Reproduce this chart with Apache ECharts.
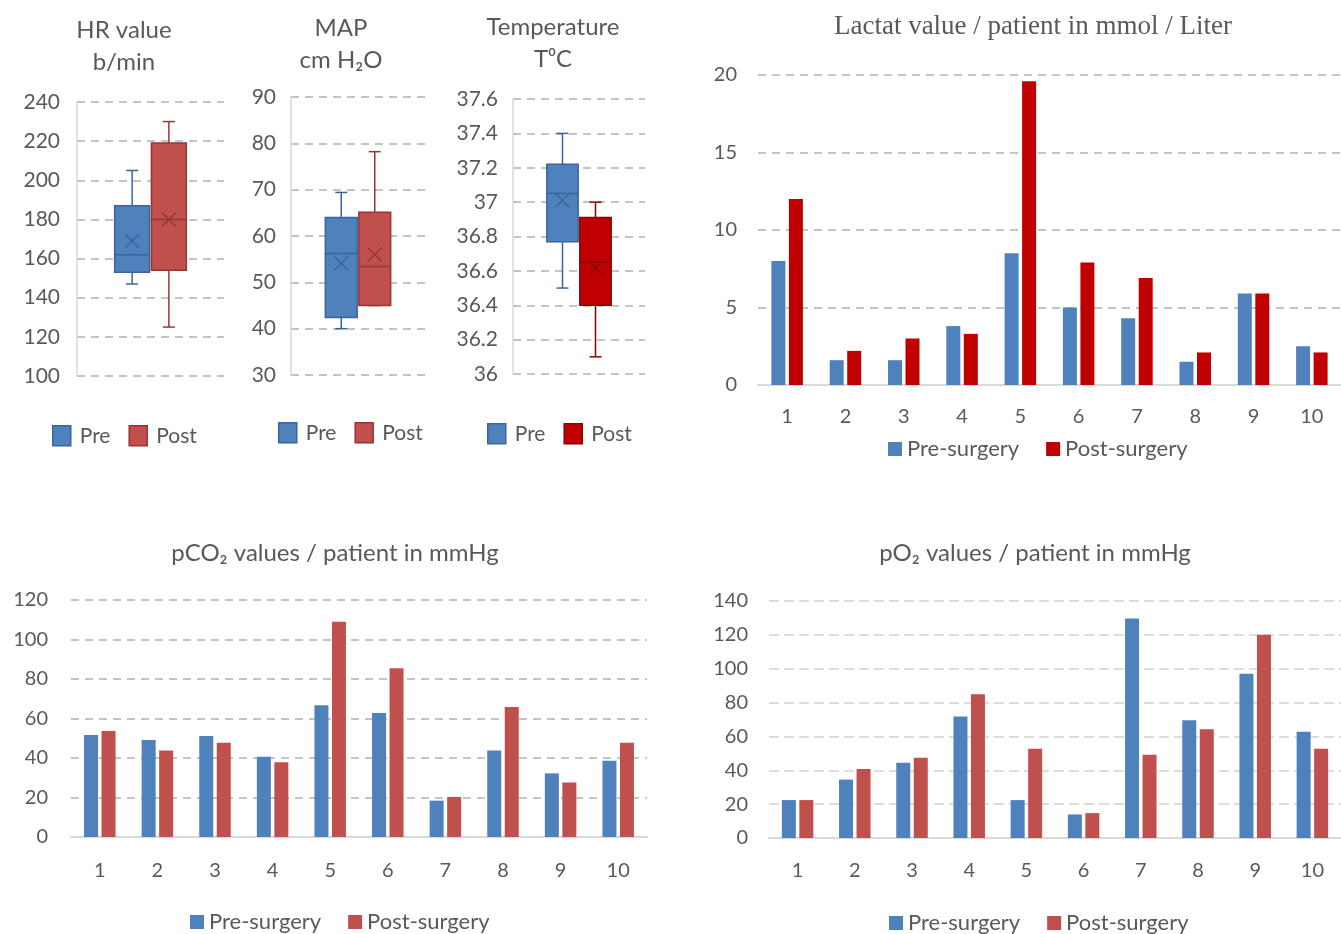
<!DOCTYPE html>
<html>
<head>
<meta charset="utf-8">
<script src="https://cdn.jsdelivr.net/npm/echarts@6/dist/echarts.min.js"></script>
<style>html,body{margin:0;padding:0;background:#fff}#c{width:1341px;height:934px}</style>
</head>
<body>
<div id="c"></div>
<script>
// ---- data ----
// box stats: [min, q1, median, q3, max, mean]
const boxCats = ['l', 'Pre', 'Post', 'r'];
const hrPre = [147, 153, 162, 187, 205, 169];
const hrPost = [125, 154, 180, 219, 230, 180];
const mapPre = [40, 42.4, 56.2, 64, 69.4, 54.1];
const mapPost = [45, 45, 53.4, 65.1, 78.2, 56];
const tempPre = [36.5, 36.77, 37.05, 37.22, 37.4, 37.01];
const tempPost = [36.1, 36.4, 36.65, 36.91, 37.0, 36.62];

const patients = ['1', '2', '3', '4', '5', '6', '7', '8', '9', '10'];
const lactatPre = [8.0, 1.6, 1.6, 3.8, 8.5, 5.0, 4.3, 1.5, 5.9, 2.5];
const lactatPost = [12.0, 2.2, 3.0, 3.3, 19.6, 7.9, 6.9, 2.1, 5.9, 2.1];
const pco2Pre = [51.6, 49.1, 51.1, 40.6, 66.7, 62.8, 18.4, 43.8, 32.2, 38.6];
const pco2Post = [53.7, 43.8, 47.7, 37.9, 109, 85.5, 20.3, 65.8, 27.6, 47.7];
const po2Pre = [22.4, 34.5, 44.4, 71.8, 22.4, 13.9, 129.7, 69.6, 97, 62.7];
const po2Post = [22.4, 40.7, 47.4, 84.9, 52.7, 14.7, 49.2, 64.2, 120, 52.7];

// ---- styles ----
const FONT = 'Lato, "Noto Sans", "DejaVu Sans", sans-serif';
const TXT = '#595959';
const BLUE = '#4F81BD', BLUE_D = '#3A6598';
const RED = '#C0504D', RED_D = '#943734';
const DRED = '#C00000', DRED_D = '#8E0000';

function boxRender(fill, stroke) {
  return function (params, api) {
    const c = api.value(0);
    const v = [1, 2, 3, 4, 5, 6].map(i => api.value(i));
    const band = api.size([1, 0])[0];
    const bw = band * 0.95;
    const y = val => api.coord([c, val])[1];
    const cx = api.coord([c, v[2]])[0];
    const yMin = y(v[0]), yQ1 = y(v[1]), yMed = y(v[2]), yQ3 = y(v[3]), yMax = y(v[4]), yMean = y(v[5]);
    const cap = 6, m = 7;
    const ls = { stroke: stroke, lineWidth: 1.5 };
    return {
      type: 'group',
      children: [
        { type: 'line', shape: { x1: cx, y1: yMax, x2: cx, y2: yQ3 }, style: ls },
        { type: 'line', shape: { x1: cx - cap, y1: yMax, x2: cx + cap, y2: yMax }, style: ls },
        { type: 'line', shape: { x1: cx, y1: yMin, x2: cx, y2: yQ1 }, style: ls },
        { type: 'line', shape: { x1: cx - cap, y1: yMin, x2: cx + cap, y2: yMin }, style: ls },
        { type: 'rect', shape: { x: cx - bw / 2, y: yQ3, width: bw, height: yQ1 - yQ3 }, style: { fill: fill, stroke: stroke, lineWidth: 1.5 } },
        { type: 'line', shape: { x1: cx - bw / 2, y1: yMed, x2: cx + bw / 2, y2: yMed }, style: ls },
        { type: 'line', shape: { x1: cx - m, y1: yMean - m, x2: cx + m, y2: yMean + m }, style: ls },
        { type: 'line', shape: { x1: cx - m, y1: yMean + m, x2: cx + m, y2: yMean - m }, style: ls }
      ]
    };
  };
}

function boxSeries(name, idx, cat, stats, fill, stroke) {
  return {
    type: 'custom', name: name, xAxisIndex: idx, yAxisIndex: idx,
    renderItem: boxRender(fill, stroke),
    itemStyle: { color: fill, borderColor: stroke },
    encode: { x: 0, y: [1, 2, 3, 4, 5, 6] },
    data: [[cat].concat(stats)],
    silent: true
  };
}

const gridDash = { type: [8, 6], color: '#C4C4C4', width: 2 };
const axisLbl = (size, margin) => ({ color: TXT, fontSize: size, fontFamily: FONT, margin: margin });

const grids = [
  { left: 77, top: 102, width: 147, height: 274 },   // HR
  { left: 291, top: 97, width: 134, height: 278 },   // MAP
  { left: 513, top: 99, width: 132, height: 275 },   // Temp
  { left: 758, top: 75, width: 587, height: 310 },   // Lactat
  { left: 71, top: 600, width: 576, height: 237 },   // pCO2
  { left: 769, top: 601, width: 578, height: 237 }   // pO2
];

const xAxes = [];
const yAxes = [];
// box plot axes
[[100, 240, 20, 17], [30, 90, 10, 15], [36, 37.6, 0.2, 15]].forEach((a, i) => {
  xAxes.push({ gridIndex: i, type: 'category', data: boxCats, boundaryGap: true,
    axisLine: { show: false }, axisTick: { show: false }, axisLabel: { show: false } });
  yAxes.push({ gridIndex: i, type: 'value', min: a[0], max: a[1], interval: a[2],
    axisLine: { show: true, lineStyle: { color: '#D9D9D9', width: 1.5 } },
    axisTick: { show: false },
    axisLabel: axisLbl(21, a[3]),
    splitLine: { show: true, lineStyle: gridDash } });
});
// bar chart axes
[[20, 5, 21, 22, gridDash], [120, 20, 23, 24, gridDash],
 [140, 20, 21, 23, { type: [10, 5], color: '#D2D2D2', width: 1.5 }]].forEach((a, j) => {
  const i = j + 3;
  xAxes.push({ gridIndex: i, type: 'category', data: patients,
    axisLine: { show: true, lineStyle: { color: '#D9D9D9', width: 2 } },
    axisTick: { show: false }, axisLabel: axisLbl(20, a[3]) });
  yAxes.push({ gridIndex: i, type: 'value', min: 0, max: a[0], interval: a[1],
    axisLine: { show: false }, axisTick: { show: false },
    axisLabel: axisLbl(20, a[2]),
    splitLine: { show: true, lineStyle: a[4] } });
});

function barSeries(name, idx, data, color) {
  return { type: 'bar', name: name, xAxisIndex: idx, yAxisIndex: idx, data: data,
    barWidth: 14, barGap: '25%', itemStyle: { color: color }, silent: true };
}

const titleStyle = (size, fam) => ({ color: TXT, fontSize: size, fontFamily: fam || FONT, fontWeight: 'normal', lineHeight: 32 });

function boxLegend(left, top, postFill, postStroke) {
  return {
    left: left, top: top, itemWidth: 18, itemHeight: 20, itemGap: 18, icon: 'rect',
    textStyle: { color: TXT, fontSize: 21, fontFamily: FONT, padding: [0, 0, 0, 4] },
    data: [
      { name: 'Pre', itemStyle: { color: BLUE, borderColor: BLUE_D, borderWidth: 1.5 } },
      { name: 'Post', itemStyle: { color: postFill, borderColor: postStroke, borderWidth: 1.5 } }
    ],
    selectedMode: false
  };
}
function barLegend(left, top, postColor) {
  return {
    left: left, top: top, itemWidth: 14, itemHeight: 14, itemGap: 27, icon: 'rect',
    textStyle: { color: TXT, fontSize: 22, fontFamily: FONT },
    data: [
      { name: 'Pre-surgery', itemStyle: { color: BLUE } },
      { name: 'Post-surgery', itemStyle: { color: postColor } }
    ],
    selectedMode: false
  };
}

const option = {
  animation: false,
  backgroundColor: '#fff',
  title: [
    { text: 'HR value\nb/min', left: 124, top: 14, padding: 0, textAlign: 'center', textStyle: titleStyle(24) },
    { text: 'MAP\ncm H\u2082O', left: 341, top: 12, padding: 0, textAlign: 'center', textStyle: titleStyle(24) },
    { text: 'Temperature\nT\u2070C', left: 553, top: 11, padding: 0, textAlign: 'center', textStyle: titleStyle(24) },
    { text: 'Lactat value / patient in mmol / Liter', left: 1033, top: 11, padding: 0, textAlign: 'center',
      textStyle: titleStyle(27, '"Liberation Serif", "Times New Roman", serif') },
    { text: 'pCO\u2082 values / patient in mmHg', left: 335, top: 537, padding: 0, textAlign: 'center', textStyle: titleStyle(24) },
    { text: 'pO\u2082 values / patient in mmHg', left: 1035, top: 537, padding: 0, textAlign: 'center', textStyle: titleStyle(24) }
  ],
  legend: [
    boxLegend(47, 420, RED, RED_D),
    boxLegend(273, 417, RED, RED_D),
    boxLegend(482, 418, DRED, DRED_D),
    barLegend(883, 433, DRED),
    barLegend(185, 906, RED),
    barLegend(884, 907, RED)
  ],
  grid: grids,
  xAxis: xAxes,
  yAxis: yAxes,
  series: [
    boxSeries('Pre', 0, 'Pre', hrPre, BLUE, BLUE_D),
    boxSeries('Post', 0, 'Post', hrPost, RED, RED_D),
    boxSeries('Pre', 1, 'Pre', mapPre, BLUE, BLUE_D),
    boxSeries('Post', 1, 'Post', mapPost, RED, RED_D),
    boxSeries('Pre', 2, 'Pre', tempPre, BLUE, BLUE_D),
    boxSeries('Post', 2, 'Post', tempPost, DRED, DRED_D),
    barSeries('Pre-surgery', 3, lactatPre, BLUE),
    barSeries('Post-surgery', 3, lactatPost, DRED),
    barSeries('Pre-surgery', 4, pco2Pre, BLUE),
    barSeries('Post-surgery', 4, pco2Post, RED),
    barSeries('Pre-surgery', 5, po2Pre, BLUE),
    barSeries('Post-surgery', 5, po2Post, RED)
  ]
};

const chart = echarts.init(document.getElementById('c'), null, { renderer: 'canvas' });
chart.setOption(option);
</script>
</body>
</html>
